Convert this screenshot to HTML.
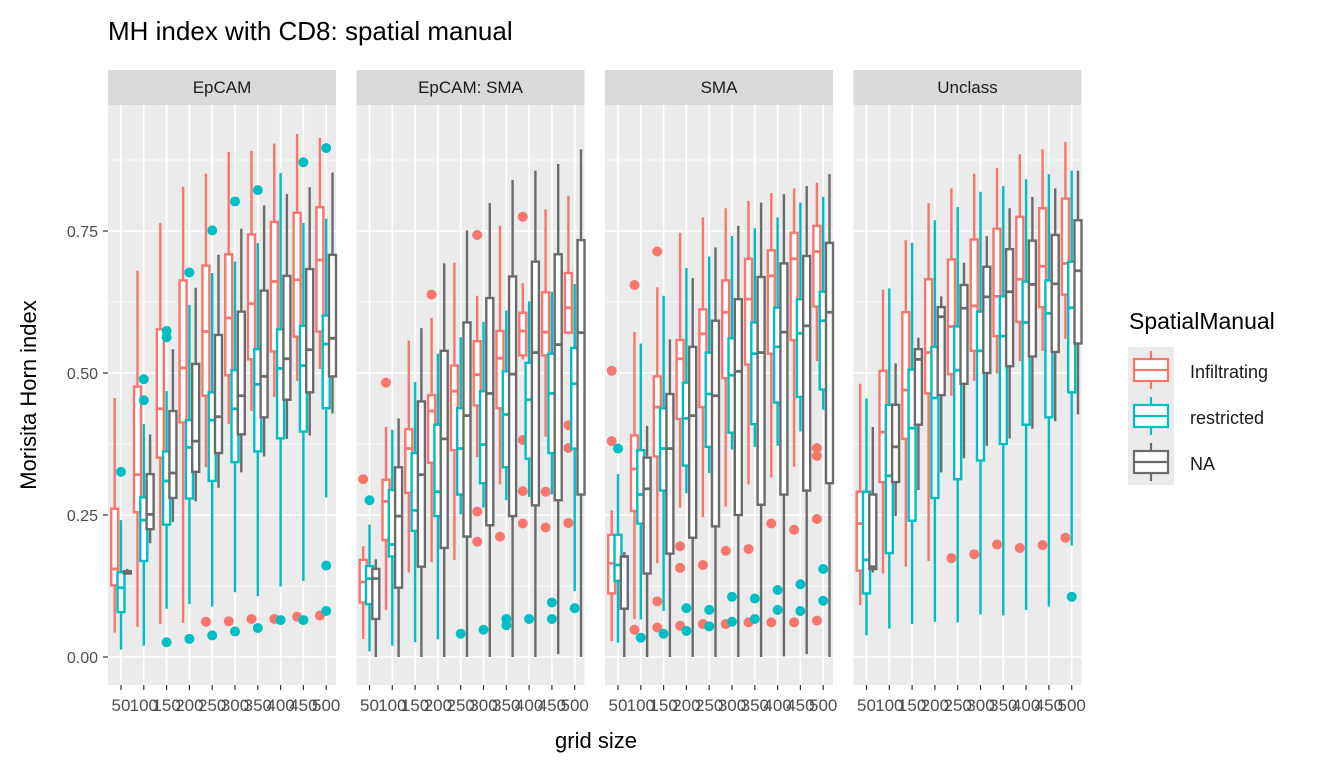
<!DOCTYPE html>
<html><head><meta charset="utf-8"><style>
body{margin:0;background:#fff;}
svg{display:block;font-family:"Liberation Sans",Arial,sans-serif;}
</style></head><body>
<svg id="chart" width="1344" height="768" viewBox="0 0 1344 768" xmlns="http://www.w3.org/2000/svg">
<text x="108" y="40" font-size="26" fill="#000">MH index with CD8: spatial manual</text>
<text x="596" y="748" font-size="22" text-anchor="middle" fill="#000">grid size</text>
<text transform="translate(36,395) rotate(-90)" font-size="22" text-anchor="middle" fill="#000">Morisita Horn index</text>
<g>
<text x="1129" y="329" font-size="23" fill="#000">SpatialManual</text>
<rect x="1128" y="347" width="46" height="138" fill="#EBEBEB"/>
<g>
<line x1="1151" y1="351" x2="1151" y2="389" stroke="#F8766D" stroke-width="2.2"/><rect x="1134" y="359" width="34" height="22" fill="#fff" stroke="#F8766D" stroke-width="2.2"/><line x1="1134" y1="370" x2="1168" y2="370" stroke="#F8766D" stroke-width="2.2"/>
<text x="1190" y="378" font-size="18" fill="#1a1a1a">Infiltrating</text></g>
<g>
<line x1="1151" y1="397" x2="1151" y2="435" stroke="#00BFC4" stroke-width="2.2"/><rect x="1134" y="405" width="34" height="22" fill="#fff" stroke="#00BFC4" stroke-width="2.2"/><line x1="1134" y1="416" x2="1168" y2="416" stroke="#00BFC4" stroke-width="2.2"/>
<text x="1190" y="424" font-size="18" fill="#1a1a1a">restricted</text></g>
<g>
<line x1="1151" y1="443" x2="1151" y2="481" stroke="#6b6b6b" stroke-width="2.2"/><rect x="1134" y="451" width="34" height="22" fill="#fff" stroke="#6b6b6b" stroke-width="2.2"/><line x1="1134" y1="462" x2="1168" y2="462" stroke="#6b6b6b" stroke-width="2.2"/>
<text x="1190" y="470" font-size="18" fill="#1a1a1a">NA</text></g>
</g>
</svg>
<script>
const panels = ["EpCAM","EpCAM: SMA","SMA","Unclass"];
const categories = ["50","100","150","200","250","300","350","400","450","500"];
const yTicks = [0,0.25,0.5,0.75];
const yTickLabels = ["0.00","0.25","0.50","0.75"];
// [lo, q1, median, q3, hi] per category
const epcamInf = [[.043,.126,.155,.261,.456],[.053,.255,.321,.476,.68],[.058,.351,.437,.577,.764],[.06,.413,.509,.663,.828],[.334,.46,.573,.689,.851],[.41,.496,.597,.709,.889],[.433,.524,.622,.744,.891],[.458,.538,.661,.766,.904],[.486,.564,.664,.782,.921],[.507,.573,.699,.792,.914]];
const epcamRes = [[.013,.079,.122,.149,.241],[.02,.169,.241,.281,.41],[.085,.233,.31,.362,.468],[.093,.279,.369,.417,.62],[.089,.31,.417,.466,.676],[.114,.343,.437,.505,.696],[.107,.362,.48,.542,.729],[.124,.385,.508,.577,.852],[.134,.397,.513,.583,.764],[.281,.438,.551,.601,.772]];
const epcamNA = [[.146,.147,.149,.151,.155],[.2,.225,.251,.322,.392],[.238,.28,.324,.433,.542],[.274,.326,.38,.516,.65],[.298,.359,.423,.567,.708],[.325,.392,.46,.608,.754],[.353,.422,.494,.645,.795],[.384,.453,.525,.671,.815],[.39,.466,.541,.683,.827],[.429,.494,.561,.708,.853]];
const epsmaInf = [[.032,.096,.132,.171,.195],[.083,.206,.274,.312,.405],[.149,.289,.367,.401,.557],[.167,.342,.433,.461,.597],[.171,.364,.468,.513,.694],[.352,.443,.497,.556,.636],[.304,.438,.526,.574,.759],[.524,.531,.574,.606,.658],[.388,.531,.572,.642,.788],[.568,.571,.615,.676,.812]];
const epsmaRes = [[.01,.093,.138,.16,.233],[.02,.177,.198,.294,.4],[.026,.222,.258,.359,.484],[.031,.248,.291,.409,.534],[.251,.286,.367,.438,.563],[.263,.306,.374,.468,.59],[.276,.334,.427,.503,.61],[.282,.349,.453,.518,.626],[.286,.359,.464,.534,.643],[.116,.367,.481,.544,.657]];
const epsmaNA = [[0,.067,.138,.155,.172],[0,.122,.248,.334,.42],[0,.159,.321,.45,.579],[0,.192,.384,.539,.693],[0,.212,.425,.589,.751],[0,.232,.464,.632,.799],[0,.248,.498,.67,.84],[0,.267,.536,.696,.856],[.005,.276,.55,.709,.868],[0,.286,.571,.734,.894]];
const smaInf = [[.028,.112,.165,.215,.258],[.067,.257,.331,.39,.572],[.165,.353,.44,.494,.651],[.263,.419,.525,.558,.747],[.246,.44,.569,.612,.774],[.265,.491,.607,.663,.79],[.304,.515,.63,.701,.803],[.316,.534,.671,.716,.817],[.335,.558,.701,.747,.825],[.521,.617,.714,.759,.835]];
const smaRes = [[.025,.134,.162,.215,.322],[.066,.235,.286,.364,.552],[.081,.293,.367,.438,.636],[.288,.337,.42,.483,.685],[.324,.37,.463,.536,.705],[.365,.395,.496,.561,.741],[.37,.41,.534,.589,.755],[.372,.448,.546,.615,.774],[.397,.458,.57,.63,.8],[.435,.471,.592,.643,.81]];
const smaNA = [[0,.085,.177,.177,.185],[0,.147,.296,.351,.407],[0,.182,.367,.463,.559],[0,.21,.425,.546,.667],[0,.23,.46,.592,.721],[0,.25,.503,.63,.759],[0,.268,.536,.669,.8],[.001,.286,.572,.693,.815],[.005,.293,.583,.706,.829],[0,.306,.607,.729,.85]];
const uncInf = [[.091,.152,.235,.291,.481],[.147,.308,.396,.504,.647],[.159,.384,.47,.607,.734],[.169,.464,.536,.665,.799],[.46,.498,.582,.7,.825],[.486,.539,.618,.735,.851],[.499,.565,.635,.754,.861],[.521,.59,.665,.775,.885],[.539,.616,.688,.79,.894],[.56,.638,.693,.807,.907]];
const uncRes = [[.038,.112,.171,.291,.455],[.05,.183,.319,.444,.649],[.058,.24,.403,.506,.729],[.062,.28,.456,.546,.769],[.061,.313,.505,.582,.792],[.075,.346,.539,.608,.819],[.073,.375,.565,.635,.829],[.083,.409,.589,.661,.841],[.089,.422,.605,.663,.85],[.196,.466,.615,.696,.856]];
const uncNA = [[.149,.155,.159,.286,.405],[.248,.308,.37,.444,.517],[.294,.409,.524,.542,.562],[.325,.461,.599,.616,.635],[.35,.481,.614,.655,.694],[.372,.5,.634,.687,.741],[.385,.512,.643,.718,.79],[.402,.529,.656,.733,.81],[.415,.537,.657,.743,.825],[.427,.552,.68,.769,.856]];
// outliers: [categoryIndex, value]
const epcamInfOut = [[4,.062],[5,.063],[6,.067],[7,.067],[8,.071],[9,.073]];
const epcamResOut = [[0,.326],[1,.489],[1,.452],[2,.574],[2,.563],[2,.026],[3,.677],[3,.032],[4,.751],[4,.038],[5,.802],[5,.045],[6,.822],[6,.051],[7,.065],[8,.871],[8,.065],[9,.896],[9,.161],[9,.081]];
const epsmaInfOut = [[0,.313],[1,.483],[3,.638],[5,.743],[5,.256],[5,.203],[6,.212],[7,.775],[7,.382],[7,.292],[7,.235],[8,.291],[8,.228],[9,.408],[9,.368],[9,.236]];
const epsmaResOut = [[0,.276],[4,.041],[5,.048],[6,.067],[6,.056],[7,.067],[8,.096],[8,.067],[9,.086]];
const smaInfOut = [[0,.504],[0,.38],[1,.655],[1,.048],[2,.714],[2,.098],[2,.052],[3,.195],[3,.157],[3,.055],[4,.162],[4,.058],[5,.187],[5,.058],[6,.19],[6,.061],[7,.235],[7,.061],[8,.224],[8,.061],[9,.368],[9,.354],[9,.243],[9,.064]];
const smaResOut = [[0,.367],[1,.034],[2,.041],[3,.086],[3,.046],[4,.083],[4,.054],[5,.106],[5,.062],[6,.103],[6,.067],[7,.118],[7,.083],[8,.128],[8,.081],[9,.155],[9,.099]];
const uncInfOut = [[4,.174],[5,.181],[6,.198],[7,.192],[8,.197],[9,.21]];
const uncResOut = [[9,.106]];

const groupColors = ["#F8766D","#00BFC4","#6b6b6b"];
const groupNames = ["infiltrating","restricted","na"];
const panelData = [[epcamInf,epcamRes,epcamNA],[epsmaInf,epsmaRes,epsmaNA],[smaInf,smaRes,smaNA],[uncInf,uncRes,uncNA]];
const panelOut = [[epcamInfOut,epcamResOut,[]],[epsmaInfOut,epsmaResOut,[]],[smaInfOut,smaResOut,[]],[uncInfOut,uncResOut,[]]];

const NS = "http://www.w3.org/2000/svg";
const svg = document.getElementById("chart");
const panelX = [108,356.5,605,853.5], panelW = 228, plotTop = 105, plotBot = 685;
const yScale = v => 657 - v*568;
const xScale = (p,i) => panelX[p] + 13 + i*22.8;
const dodge = [-6.3,0,6.3], bw = 7;
function mk(tag, attrs, parent){const e=document.createElementNS(NS,tag);for(const k in attrs)e.setAttribute(k,attrs[k]);(parent||svg).appendChild(e);return e;}

yTicks.forEach((t,k)=>{
  const tl = mk("text",{x:98,y:yScale(t)+6,"font-size":16,"text-anchor":"end",fill:"#4D4D4D"});
  tl.textContent = yTickLabels[k];
  
  
  mk("line",{x1:103,x2:108,y1:yScale(t),y2:yScale(t),stroke:"#333","stroke-width":1.2});
});

panels.forEach((name,p)=>{
  const g = mk("g",{});
  
  
  const strip = mk("rect",{x:panelX[p],y:70,width:panelW,height:35,fill:"#D9D9D9"},g);
  
  
  const st = mk("text",{x:panelX[p]+panelW/2,y:93,"font-size":17,"text-anchor":"middle",fill:"#1A1A1A"},g);
  st.textContent = name;
  
  
  const bg = mk("rect",{x:panelX[p],y:plotTop,width:panelW,height:plotBot-plotTop,fill:"#EBEBEB"},g);
  
  
  for(let v=0.125; v<1; v+=0.25){
    if(yScale(v)>plotTop) mk("line",{x1:panelX[p],x2:panelX[p]+panelW,y1:yScale(v),y2:yScale(v),stroke:"#fff","stroke-width":0.8},g);
  }
  yTicks.forEach(t=>mk("line",{x1:panelX[p],x2:panelX[p]+panelW,y1:yScale(t),y2:yScale(t),stroke:"#fff","stroke-width":1.6},g));
  categories.forEach((c,i)=>{
    const x = xScale(p,i);
    mk("line",{x1:x,x2:x,y1:plotTop,y2:plotBot,stroke:"#fff","stroke-width":1.6},g);
    mk("line",{x1:x,x2:x,y1:plotBot,y2:plotBot+5,stroke:"#333","stroke-width":1.2},g);
    const tl = mk("text",{x:x,y:711,"font-size":17,"text-anchor":"middle",fill:"#4D4D4D"},g);
    tl.textContent = c;
    
    
  });
  panelData[p].forEach((series,s)=>{
    const col = groupColors[s];
    series.forEach((d,i)=>{
      const cx = xScale(p,i)+dodge[s];
      const bg2 = mk("g",{},g);
      
      
      mk("line",{x1:cx,x2:cx,y1:yScale(d[0]),y2:yScale(d[4]),stroke:col,"stroke-width":2.4},bg2);
      mk("rect",{x:cx-bw/2,y:yScale(d[3]),width:bw,height:Math.max(0.5,yScale(d[1])-yScale(d[3])),fill:"#fff",stroke:col,"stroke-width":2.4},bg2);
      mk("line",{x1:cx-bw/2,x2:cx+bw/2,y1:yScale(d[2]),y2:yScale(d[2]),stroke:col,"stroke-width":2.8},bg2);
    });
    panelOut[p][s].forEach(o=>{
      const c = mk("circle",{cx:xScale(p,o[0])+dodge[s],cy:yScale(o[1]),r:5,fill:col},g);
      
      
    });
  });
});
</script>
</body></html>
